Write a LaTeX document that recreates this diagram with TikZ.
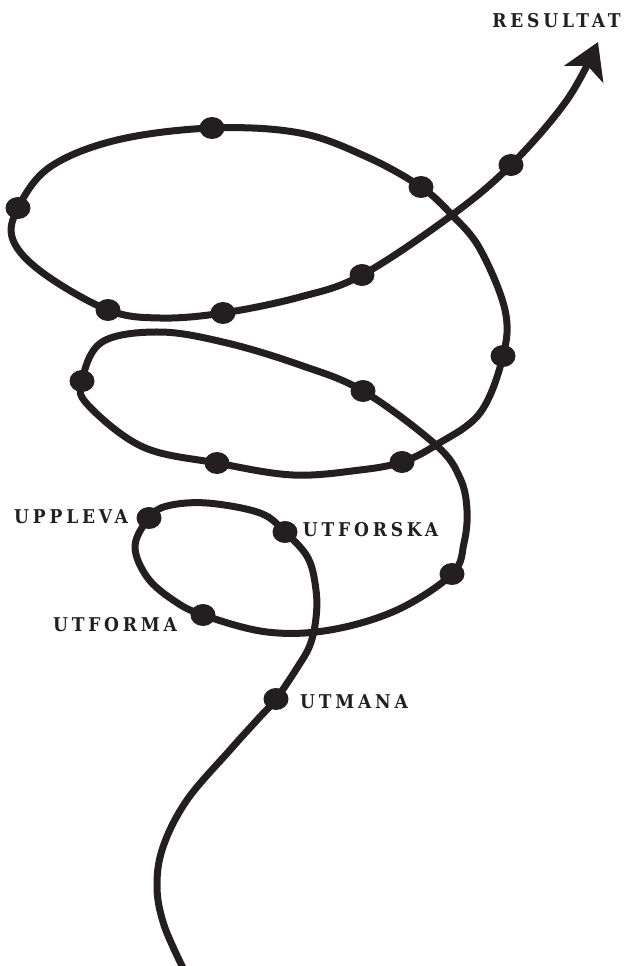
\documentclass[tikz,border=0pt]{standalone}
\usepackage{fontspec}
\newfontfamily\labelfont[LetterSpace=20]{DejaVu Serif Condensed}
\usetikzlibrary{arrows.meta,shapes.geometric}
\definecolor{ink}{HTML}{231F20}
\begin{document}
\begin{tikzpicture}[x=1pt,y=-1pt,
  curve/.style={draw=ink, line width=7pt, line join=round},
  dotnode/.style={ellipse, fill=ink, inner sep=0pt, minimum width=25pt, minimum height=22pt},
  lbl/.style={inner sep=0pt, text=ink, font=\labelfont\bfseries\fontsize{19}{19}\selectfont}]
\useasboundingbox (0,0) rectangle (629,966);
% dot positions
\coordinate (utmana) at (276,699);
\coordinate (utforska) at (285,532);
\coordinate (uppleva) at (149,518);
\coordinate (utforma) at (203,615);
\coordinate (d1) at (452,574);
\coordinate (d2) at (363,391);
\coordinate (d3) at (82,381);
\coordinate (d4) at (217,463);
\coordinate (d5) at (402,462);
\coordinate (d6) at (503,356);
\coordinate (d7) at (421,187);
\coordinate (d8) at (212,128);
\coordinate (d9) at (18,208);
\coordinate (d10) at (108,310);
\coordinate (d11) at (223,313);
\coordinate (d12) at (362,275);
\coordinate (d13) at (511,165);
\coordinate (x1) at (436,445);
\coordinate (x2) at (452,215);
\coordinate (start) at (183,968);
\coordinate (tip) at (598,42);
% spiral
\draw[curve, -{Stealth[length=35pt,width=42pt,inset=9pt]}] plot[smooth, tension=0.6] coordinates {
(start) (164,925) (157,887) (163,847) (187,800) (230,750) (258,719) (utmana) (297,668) (310,645) (316,618) (316,590) (308,558) (utforska) (260,513) (207,503) (167,506) (uppleva) (135,546) (147,577) (173,600) (utforma) (267,632) (330,630) (397,610) (d1) (464,543) (467,510) (460,478) (x1) (d2) (300,365) (227,343) (160,332) (102,342) (d3) (88,405) (143,447) (d4) (293,475) (360,470) (d5) (x1) (480,413) (d6) (505,310) (480,249) (x2) (d7) (367,157) (300,133) (d8) (117,140) (50,167) (d9) (13,240) (43,273) (d10) (160,318) (d11) (300,297) (d12) (x2) (d13) (567,100) (tip)};
% dots
\foreach \c in {utmana,utforska,uppleva,utforma,d1,d2,d3,d4,d5,d6,d7,d8,d9,d10,d11,d12,d13}
  \node[dotnode] (n-\c) at (\c) {};
% labels
\node[lbl] (resultat) at (556.5,20.5) {RESULTAT};
\node[lbl] (tuppleva) at (71,517) {UPPLEVA};
\node[lbl] (tutforska) at (370.5,530) {UTFORSKA};
\node[lbl] (tutforma) at (115,625) {UTFORMA};
\node[lbl] (tutmana) at (354,701.5) {UTMANA};
\end{tikzpicture}
\end{document}
